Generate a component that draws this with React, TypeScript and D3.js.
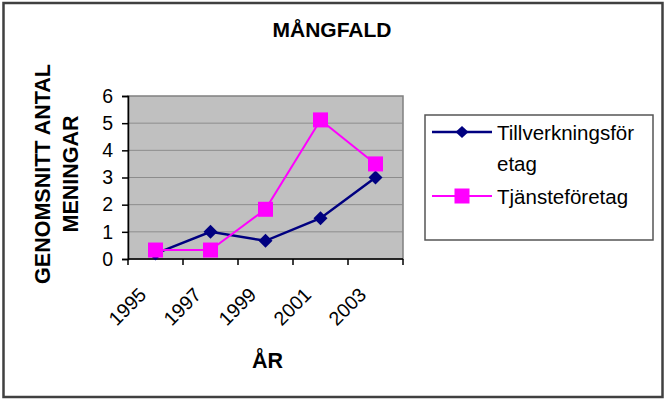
import { useEffect, useRef } from 'react';
import * as d3 from 'd3';

// Data
const years = ['1995', '1997', '1999', '2001', '2003'];
const tillverkning = [0.2, 1.0, 0.67, 1.5, 3.0];
const tjanste = [0.33, 0.33, 1.83, 5.12, 3.5];
const yTicks = [0, 1, 2, 3, 4, 5, 6];

const FONT = '"Liberation Sans", Arial, sans-serif';

export default function App() {
    const svgRef = useRef<SVGSVGElement>(null);

    useEffect(() => {
        document.body.style.margin = '0';
        const svg = d3.select(svgRef.current);
        svg.selectAll('*').remove();

        const W = 669;
        const H = 401;
        const plot = { left: 128, right: 403, top: 96, bottom: 259 };

        svg.attr('width', W).attr('height', H).style('display', 'block');

        // Outer frame
        svg.append('rect')
            .attr('x', 3.5)
            .attr('y', 3)
            .attr('width', 659)
            .attr('height', 394)
            .attr('fill', '#fff')
            .attr('stroke', '#404040')
            .attr('stroke-width', 2.5);

        // Scales
        const x = d3.scaleBand().domain(years).range([plot.left, plot.right]).padding(0);
        const y = d3.scaleLinear().domain([0, 6]).range([plot.bottom, plot.top]);
        const cx = (d: string) => (x(d) as number) + x.bandwidth() / 2;

        // Plot background
        svg.append('rect')
            .attr('x', plot.left)
            .attr('y', plot.top)
            .attr('width', plot.right - plot.left)
            .attr('height', plot.bottom - plot.top)
            .attr('fill', '#c0c0c0')
            .attr('stroke', '#808080')
            .attr('stroke-width', 1.5);

        // Gridlines
        svg.append('g')
            .selectAll('line')
            .data(yTicks.filter((t) => t > 0 && t < 6))
            .enter()
            .append('line')
            .attr('x1', plot.left)
            .attr('x2', plot.right)
            .attr('y1', (d) => y(d))
            .attr('y2', (d) => y(d))
            .attr('stroke', '#8c8c8c')
            .attr('stroke-width', 1);

        // Y axis
        const yAxis = svg.append('g')
            .attr('transform', `translate(${plot.left},0)`)
            .call(d3.axisLeft(y).tickValues(yTicks).tickFormat(d3.format('d')).tickSize(6).tickPadding(9));
        yAxis.select('.domain').attr('stroke', '#000').attr('stroke-width', 1.5);
        yAxis.selectAll('.tick line').attr('stroke', '#000').attr('stroke-width', 1.5);
        yAxis.selectAll('.tick text')
            .attr('fill', '#000')
            .style('font-family', FONT)
            .style('font-size', '19.5px');

        // X axis: ticks at band boundaries
        const xAxis = svg.append('g');
        xAxis.append('line')
            .attr('x1', plot.left)
            .attr('x2', plot.right)
            .attr('y1', plot.bottom)
            .attr('y2', plot.bottom)
            .attr('stroke', '#000')
            .attr('stroke-width', 1.5);
        const edges = [...years.map((d) => x(d) as number), plot.right];
        xAxis.selectAll('line.tick')
            .data(edges)
            .enter()
            .append('line')
            .attr('class', 'tick')
            .attr('x1', (d) => d)
            .attr('x2', (d) => d)
            .attr('y1', plot.bottom)
            .attr('y2', plot.bottom + 6)
            .attr('stroke', '#000')
            .attr('stroke-width', 1.5);
        xAxis.selectAll('text')
            .data(years)
            .enter()
            .append('text')
            .attr('transform', (d) => `translate(${cx(d) - 8},${plot.bottom + 37}) rotate(-45)`)
            .attr('text-anchor', 'end')
            .style('font-family', FONT)
            .style('font-size', '19.5px')
            .text((d) => d);

        // Lines
        const line = d3.line<number>()
            .x((_, i) => cx(years[i]))
            .y((d) => y(d));

        svg.append('path')
            .datum(tillverkning)
            .attr('d', line)
            .attr('fill', 'none')
            .attr('stroke', '#000080')
            .attr('stroke-width', 2.5);

        svg.append('g')
            .selectAll('path')
            .data(tillverkning)
            .enter()
            .append('path')
            .attr('d', 'M0,-7L7,0L0,7L-7,0Z')
            .attr('transform', (d, i) => `translate(${cx(years[i])},${y(d)})`)
            .attr('fill', '#000080');

        svg.append('path')
            .datum(tjanste)
            .attr('d', line)
            .attr('fill', 'none')
            .attr('stroke', '#ff00ff')
            .attr('stroke-width', 2);

        svg.append('g')
            .selectAll('rect')
            .data(tjanste)
            .enter()
            .append('rect')
            .attr('x', (d, i) => cx(years[i]) - 7.5)
            .attr('y', (d) => y(d) - 7.5)
            .attr('width', 15)
            .attr('height', 15)
            .attr('fill', '#ff00ff');

        // Title
        svg.append('text')
            .attr('x', 332)
            .attr('y', 36.5)
            .attr('text-anchor', 'middle')
            .style('font-family', FONT)
            .style('font-size', '21px')
            .style('font-weight', 'bold')
            .text('MÅNGFALD');

        // Axis titles
        svg.append('text')
            .attr('x', (plot.left + plot.right) / 2 + 2)
            .attr('y', 368)
            .attr('text-anchor', 'middle')
            .style('font-family', FONT)
            .style('font-size', '21.5px')
            .style('font-weight', 'bold')
            .text('ÅR');

        const yLabel = svg.append('text')
            .attr('transform', 'translate(0,174) rotate(-90)')
            .attr('text-anchor', 'middle')
            .style('font-family', FONT)
            .style('font-size', '21.5px')
            .style('font-weight', 'bold');
        yLabel.append('tspan').attr('x', 0).attr('y', 50).text('GENOMSNITT ANTAL');
        yLabel.append('tspan').attr('x', 0).attr('y', 78).text('MENINGAR');

        // Legend
        const legend = svg.append('g');
        legend.append('rect')
            .attr('x', 425)
            .attr('y', 115)
            .attr('width', 228)
            .attr('height', 125)
            .attr('fill', '#fff')
            .attr('stroke', '#555')
            .attr('stroke-width', 1.5);

        const legendItems = [
            { label: ['Tillverkningsför', 'etag'], color: '#000080', shape: 'diamond', y: 132 },
            { label: ['Tjänsteföretag'], color: '#ff00ff', shape: 'square', y: 196 },
        ];

        legendItems.forEach((item) => {
            legend.append('line')
                .attr('x1', 432)
                .attr('x2', 492)
                .attr('y1', item.y)
                .attr('y2', item.y)
                .attr('stroke', item.color)
                .attr('stroke-width', item.shape === 'diamond' ? 2.5 : 2);
            if (item.shape === 'diamond') {
                legend.append('path')
                    .attr('d', 'M0,-6L6.5,0L0,6L-6.5,0Z')
                    .attr('transform', `translate(462,${item.y})`)
                    .attr('fill', item.color);
            } else {
                legend.append('rect')
                    .attr('x', 462 - 7.5)
                    .attr('y', item.y - 7.5)
                    .attr('width', 15)
                    .attr('height', 15)
                    .attr('fill', item.color);
            }
            const t = legend.append('text')
                .style('font-family', FONT)
                .style('font-size', '20.5px');
            item.label.forEach((s, i) => {
                t.append('tspan')
                    .attr('x', 497)
                    .attr('y', item.y + 8 + i * 31)
                    .text(s);
            });
        });
    }, []);

    return <svg ref={svgRef}></svg>;
}
